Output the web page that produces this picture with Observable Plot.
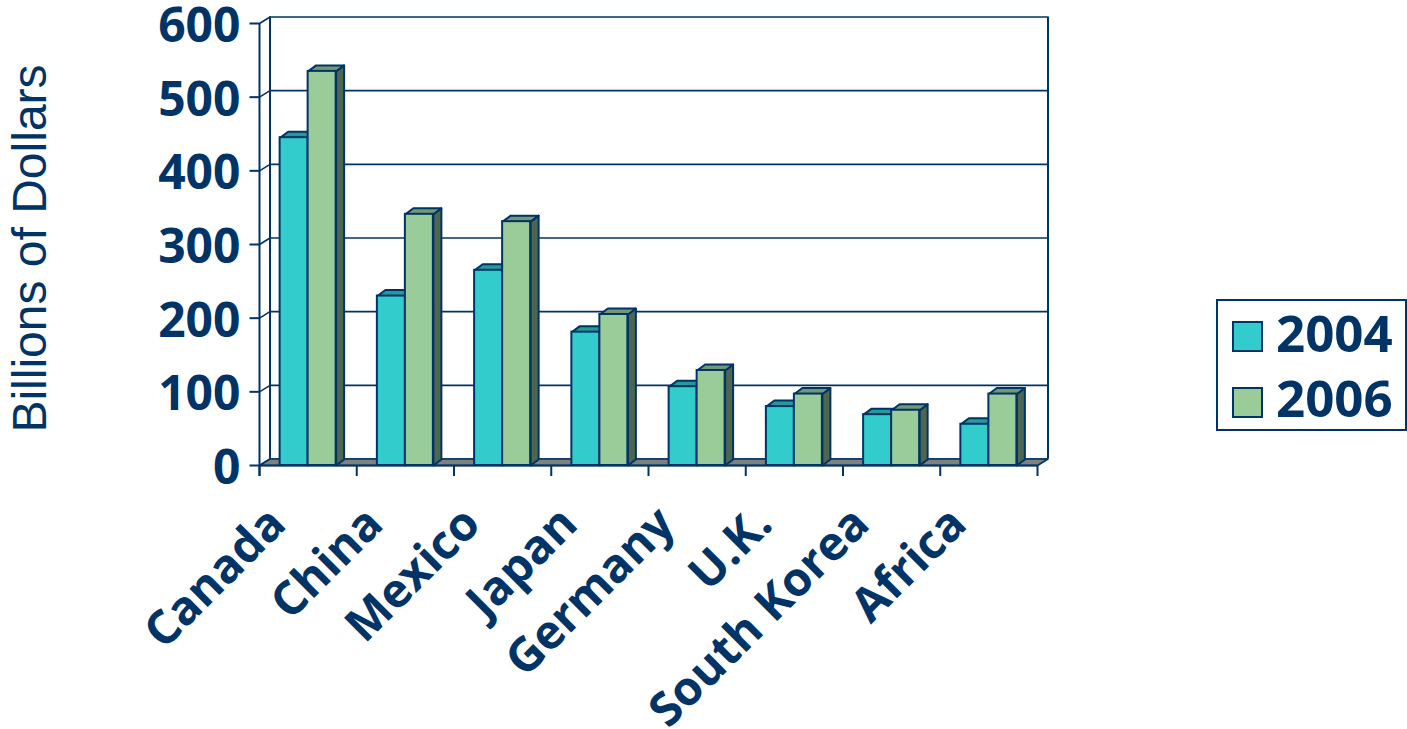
<!DOCTYPE html>
<html><head><meta charset="utf-8">
<script src="https://cdn.jsdelivr.net/npm/d3@7"></script>
<script src="https://cdn.jsdelivr.net/npm/@observablehq/plot@0.6"></script>
<style>
html,body{margin:0;padding:0;background:#fff;overflow:hidden}
#wrap{position:relative;width:1407px;height:729px}
.legend{position:absolute;left:1216px;top:299px;width:191px;height:132px;border:2px solid #003366;box-sizing:border-box;font-family:"Open Sans";font-weight:700;font-size:51px;color:#003366}
.sw{position:absolute;left:14px;width:31px;height:31px;box-sizing:border-box;border:2px solid #003366}
.lt{position:absolute;left:58px;line-height:1;white-space:nowrap}
</style></head><body><div id="wrap"></div>
<script>
// ---- data ----
const categories = ["Canada","China","Mexico","Japan","Germany","U.K.","South Korea","Africa"];
const values2004 = [445,230,265,181,107,80,69,56];
const values2006 = [535,341,331,205,129,97,75,97];
const seriesNames = ["2004","2006"];
const yTicks = [0,100,200,300,400,500,600];
const yTitle = "Billions of Dollars";

// ---- style / layout ----
const W = 1407, H = 729, mL = 259, mR = 370, mT = 23, mB = 264;
const yMax = 600;
const navy = "#003366";
const colors = {
  "2004": {front: "#33CCCC", top: "#269999", side: "#1A6666"},
  "2006": {front: "#99CC99", top: "#739973", side: "#4D664D"}
};
const pxX = (W - mL - mR) / categories.length;   // pixels per category unit
const pxY = (H - mT - mB) / yMax;                 // pixels per value unit
const wallDx = 10.5 / pxX, wallDy = 6.5 / pxY;    // back wall depth (data units)
const barDx = 8 / pxX, barDy = 6 / pxY;           // bar depth
const barW = 28 / pxX;                            // bar width
const yTickLen = 10 / pxX, xTickLen = 11 / pxY;
const nCat = categories.length;

const bars = [];
categories.forEach((c, i) => {
  bars.push({cat: c, series: "2004", x0: i + 0.5 - barW, x1: i + 0.5, v: values2004[i]});
  bars.push({cat: c, series: "2006", x0: i + 0.5, x1: i + 0.5 + barW, v: values2006[i]});
});
function topPoly(b) {
  const id = b.series + b.cat + "t";
  return [
    {id, x: b.x0, y: b.v}, {id, x: b.x1, y: b.v},
    {id, x: b.x1 + barDx, y: b.v + barDy}, {id, x: b.x0 + barDx, y: b.v + barDy}
  ];
}
function sidePoly(b) {
  const id = b.series + b.cat + "s";
  return [
    {id, x: b.x1, y: 0}, {id, x: b.x1 + barDx, y: barDy},
    {id, x: b.x1 + barDx, y: b.v + barDy}, {id, x: b.x1, y: b.v}
  ];
}
const floor = [
  {id: "f", x: 0, y: 0}, {id: "f", x: nCat, y: 0},
  {id: "f", x: nCat + wallDx, y: wallDy}, {id: "f", x: wallDx, y: wallDy}
];

const barMarks = [];
for (const s of seriesNames) {
  const bs = bars.filter(b => b.series === s);
  barMarks.push(
    Plot.line(bs.flatMap(sidePoly), {x: "x", y: "y", z: "id", curve: "linear-closed", fill: colors[s].side, stroke: navy, strokeWidth: 2, strokeLinejoin: "round"}),
    Plot.line(bs.flatMap(topPoly), {x: "x", y: "y", z: "id", curve: "linear-closed", fill: colors[s].top, stroke: navy, strokeWidth: 2, strokeLinejoin: "round"}),
    Plot.rect(bs, {x1: "x0", x2: "x1", y1: 0, y2: "v", fill: colors[s].front, stroke: navy, strokeWidth: 2})
  );
}

const chart = Plot.plot({
  width: W, height: H,
  marginLeft: mL, marginRight: mR, marginTop: mT, marginBottom: mB,
  x: {type: "linear", domain: [0, nCat], axis: null},
  y: {type: "linear", domain: [0, yMax], axis: null},
  style: {background: "white", overflow: "visible"},
  marks: [
    // back wall gridlines
    Plot.ruleY(yTicks, {y: d => d + wallDy, x1: wallDx, x2: nCat + wallDx, stroke: navy, strokeWidth: 1.6}),
    // side wall connectors
    Plot.link(yTicks, {x1: 0, y1: d => d, x2: wallDx, y2: d => d + wallDy, stroke: navy, strokeWidth: 1.6}),
    // back wall verticals
    Plot.ruleX([wallDx, nCat + wallDx], {x: d => d, y1: wallDy, y2: yMax + wallDy, stroke: navy, strokeWidth: 2}),
    // floor
    Plot.line(floor, {x: "x", y: "y", z: "id", curve: "linear-closed", fill: "#808080", stroke: navy, strokeWidth: 1.6}),
    // front value axis
    Plot.ruleX([0], {y1: -xTickLen, y2: yMax, stroke: navy, strokeWidth: 2}),
    Plot.link(yTicks, {x1: -yTickLen, x2: 0, y1: d => d, y2: d => d, stroke: navy, strokeWidth: 2}),
    // category ticks
    Plot.ruleX(d3.range(nCat + 1), {x: d => d, y1: 0, y2: -xTickLen, stroke: navy, strokeWidth: 2}),
    Plot.ruleY([0], {x1: 0, x2: nCat, stroke: navy, strokeWidth: 2}),
    ...barMarks,
    // y tick labels
    Plot.text(yTicks, {x: () => 0, y: d => d, text: d => String(d), dx: -19, dy: 3, textAnchor: "end", fontFamily: "Open Sans", fontWeight: 700, fontSize: 48, fill: navy}),
    // category labels
    Plot.text(categories, {x: (d, i) => i + 0.5, y: () => 0, text: d => d, rotate: -45, textAnchor: "end", lineAnchor: "bottom", dx: -20, dy: 61, fontFamily: "Open Sans", fontWeight: 700, fontSize: 47, fill: navy}),
    // y title
    Plot.text([yTitle], {frameAnchor: "left", text: d => d, rotate: -90, textAnchor: "middle", lineAnchor: "bottom", dx: -214, dy: 4, fontFamily: "Liberation Sans", fontSize: 48, fill: navy})
  ]
});
const wrap = document.getElementById("wrap");
wrap.appendChild(chart);

// legend
const lg = document.createElement("div");
lg.className = "legend";
seriesNames.forEach((s, i) => {
  const sw = document.createElement("div");
  sw.className = "sw";
  sw.style.top = (20 + i * 66) + "px";
  sw.style.background = colors[s].front;
  const t = document.createElement("div");
  t.className = "lt";
  t.style.top = (6 + i * 65) + "px";
  t.textContent = s;
  lg.appendChild(sw); lg.appendChild(t);
});
wrap.appendChild(lg);
</script></body></html>
